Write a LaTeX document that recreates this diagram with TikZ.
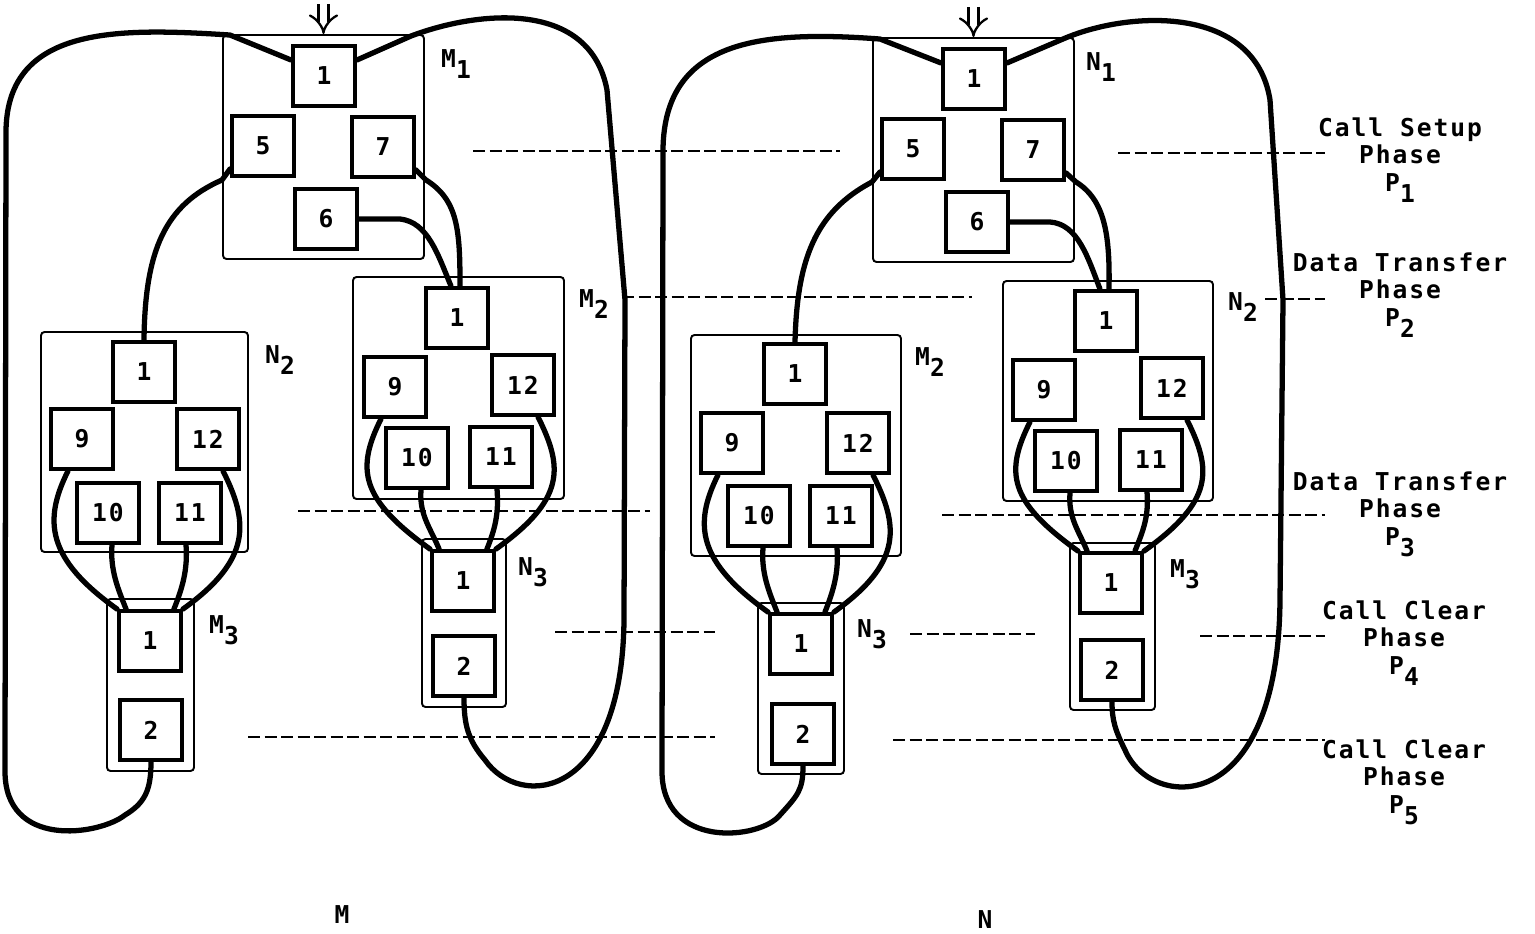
\documentclass[tikz,border=0pt]{standalone}
\usepackage{fontspec}
\newfontfamily\dgfont[LetterSpace=8]{DejaVu Sans Mono}
\usetikzlibrary{arrows.meta, calc, fit}
\tikzset{
  every picture/.style={font=\dgfont\bfseries, line width=1pt},
  unit/.style={draw, line width=2.2pt, minimum width=12.4mm, minimum height=12mm, inner sep=0pt, font=\dgfont\bfseries\fontsize{14}{14}\selectfont},
  block/.style={draw, line width=1.1pt, rounded corners=2pt, inner sep=0pt},
  wire/.style={line width=3pt, line cap=round, line join=round},
  guide/.style={line width=1pt, dash pattern=on 2.4mm off 0.9mm},
  tag/.style={inner sep=0pt, font=\dgfont\bfseries\fontsize{14}{14}\selectfont},
  phase/.style={inner sep=0pt, align=center, font=\dgfont\bfseries\fontsize{14}{15.6}\selectfont},
  inarrow/.style={double, double distance=4.5pt, line width=1.3pt, -{Implies[length=3mm]}},
}
\newcommand{\lab}[2]{#1\raisebox{-0.45em}{#2}}

\begin{document}
\begin{tikzpicture}[x=0.2mm, y=-0.2mm]
  \useasboundingbox (0,0) rectangle (1535,934);
  % fan of four wires from the 9..12 units down to a unit 1
  \newcommand{\fan}[2]{%
    \draw[wire] ($(#19.south)+(-14,0)$) .. controls +(-25,50) and +(-70,-50) .. (#2.north west);
    \draw[wire] ($(#110.south)+(4,0)$) .. controls +(-2,25) and +(-8,-20) .. ($(#2.north west)+(9,0)$);
    \draw[wire] ($(#111.south)+(-4,0)$) .. controls +(2,25) and +(8,-20) .. ($(#2.north east)+(-9,0)$);
    \draw[wire] ($(#112.south)+(15,0)$) .. controls +(25,50) and +(70,-50) .. (#2.north east);
  }

  % ---------- M ----------
  \node[block, fit={(223,35) (424,259)}] (M1) {};
  \node[unit] (mt1) at (324,76) {1};
  \node[unit] (mt5) at (263,146) {5};
  \node[unit] (mt7) at (383,147) {7};
  \node[unit] (mt6) at (326,219) {6};
  \node[tag] at (456,64) {\lab{M}{1}};

  \node[block, fit={(41,332) (248,552)}] (mN2) {};
  \node[unit] (ml1) at (144,372) {1};
  \node[unit] (ml9) at (82,439) {9};
  \node[unit] (ml12) at (208,439) {12};
  \node[unit] (ml10) at (108,513) {10};
  \node[unit] (ml11) at (190,513) {11};
  \node[tag] at (280,360) {\lab{N}{2}};

  \node[block, fit={(353,277) (564,499)}] (mM2) {};
  \node[unit] (mr1) at (457,318) {1};
  \node[unit] (mr9) at (395,387) {9};
  \node[unit] (mr12) at (523,385) {12};
  \node[unit] (mr10) at (417,458) {10};
  \node[unit] (mr11) at (501,457) {11};
  \node[tag] at (594,304) {\lab{M}{2}};

  \node[block, fit={(107,599) (194,771)}] (mM3) {};
  \node[unit] (mlb1) at (150,641) {1};
  \node[unit] (mlb2) at (151,730) {2};
  \node[tag] at (224,630) {\lab{M}{3}};

  \node[block, fit={(422,539) (506,707)}] (mN3) {};
  \node[unit] (mrb1) at (463,581) {1};
  \node[unit] (mrb2) at (464,666) {2};
  \node[tag] at (533,572) {\lab{N}{3}};

  \coordinate (min) at (323.5,4);
  \draw[inarrow] (min) -- (M1.north);
  \draw[wire] ($(mt1.west)+(0,-16)$) -- ($(M1.north west)+(8,1)$)
    .. controls (120,28) and (8,25) .. (6,130) -- (5,770)
    .. controls (4,850) and (100,835) .. (125,815)
    .. controls (145,803) and (151,790) .. (mlb2.south);
  \draw[wire] ($(mt1.east)+(0,-16)$) -- ($(M1.north east)+(-14,2)$)
    .. controls (480,10) and (590,0) .. (607,90) -- (625,300) -- (624,620)
    .. controls (622,800) and (520,810) .. (485,760)
    .. controls (468,740) and (464,725) .. (mrb2.south);
  \draw[wire] ($(mt5.south west)+(0,-9)$) -- (222,180) .. controls (165,205) and (145,250) .. (ml1.north);
  \draw[wire] ($(mt7.south east)+(0,-9)$) -- (426,180) .. controls (458,200) and (460,230) .. ($(mr1.north)+(3,0)$);
  \draw[wire] (mt6.east) -- (400,219) .. controls (428,222) and (438,255) .. ($(mr1.north)+(-6,0)$);
  \fan{ml}{mlb1}
  \fan{mr}{mrb1}

  % ---------- N ----------
  \node[block, fit={(873,38) (1074,262)}] (N1) {};
  \node[unit] (nt1) at (974,79) {1};
  \node[unit] (nt5) at (913,149) {5};
  \node[unit] (nt7) at (1033,150) {7};
  \node[unit] (nt6) at (977,222) {6};
  \node[tag] at (1101,67) {\lab{N}{1}};

  \node[block, fit={(691,335) (901,556)}] (nM2) {};
  \node[unit] (nl1) at (795,374) {1};
  \node[unit] (nl9) at (732,443) {9};
  \node[unit] (nl12) at (858,443) {12};
  \node[unit] (nl10) at (759,516) {10};
  \node[unit] (nl11) at (841,516) {11};
  \node[tag] at (930,362) {\lab{M}{2}};

  \node[block, fit={(1003,281) (1213,501)}] (nN2) {};
  \node[unit] (nr1) at (1106,321) {1};
  \node[unit] (nr9) at (1044,390) {9};
  \node[unit] (nr12) at (1172,388) {12};
  \node[unit] (nr10) at (1066,461) {10};
  \node[unit] (nr11) at (1151,460) {11};
  \node[tag] at (1243,307) {\lab{N}{2}};

  \node[block, fit={(758,603) (844,774)}] (nN3) {};
  \node[unit] (nlb1) at (801,644) {1};
  \node[unit] (nlb2) at (803,734) {2};
  \node[tag] at (872,634) {\lab{N}{3}};

  \node[block, fit={(1070,543) (1155,710)}] (nM3) {};
  \node[unit] (nrb1) at (1111,583) {1};
  \node[unit] (nrb2) at (1112,670) {2};
  \node[tag] at (1185,574) {\lab{M}{3}};

  \coordinate (nin) at (973.5,7);
  \draw[inarrow] (nin) -- (N1.north);
  \draw[wire] ($(nt1.west)+(0,-16)$) -- ($(N1.north west)+(8,2)$)
    .. controls (760,30) and (664,40) .. (663,150) -- (662,770)
    .. controls (661,850) and (760,840) .. (780,815)
    .. controls (798,795) and (803,790) .. (nlb2.south);
  \draw[wire] ($(nt1.east)+(0,-16)$) -- ($(N1.north east)+(-12,2)$)
    .. controls (1130,10) and (1255,5) .. (1270,100) -- (1283,300) -- (1280,600)
    .. controls (1278,820) and (1150,810) .. (1125,750)
    .. controls (1115,730) and (1112,720) .. (nrb2.south);
  \draw[wire] ($(nt5.south west)+(0,-9)$) -- (872,182) .. controls (815,212) and (797,260) .. (nl1.north);
  \draw[wire] ($(nt7.south east)+(0,-9)$) -- (1076,182) .. controls (1105,200) and (1110,235) .. ($(nr1.north)+(3,0)$);
  \draw[wire] (nt6.east) -- (1050,222) .. controls (1078,224) and (1088,258) .. ($(nr1.north)+(-6,0)$);
  \fan{nl}{nlb1}
  \fan{nr}{nrb1}

  % phase guides
  \draw[guide] (473,151) -- (840,151);
  \draw[guide] (1118,153) -- (1325,153);
  \draw[guide] (622,297) -- (972,297);
  \draw[guide] (1265,299) -- (1325,299);
  \draw[guide] (298,511) -- (650,511);
  \draw[guide] (942,515) -- (1325,515);
  \draw[guide] (555,632) -- (715,632);
  \draw[guide] (910,634) -- (1035,634);
  \draw[guide] (1200,636) -- (1325,636);
  \draw[guide] (248,737) -- (715,737);
  \draw[guide] (893,740) -- (1325,740);

  \node[phase] (p1) at (1400,160) {Call Setup\\Phase\\\lab{P}{1}};
  \node[phase] (p2) at (1400,295) {Data Transfer\\Phase\\\lab{P}{2}};
  \node[phase] (p3) at (1400,514) {Data Transfer\\Phase\\\lab{P}{3}};
  \node[phase] (p4) at (1404,643) {Call Clear\\Phase\\\lab{P}{4}};
  \node[phase] (p5) at (1404,782) {Call Clear\\Phase\\\lab{P}{5}};

  \node[tag] (mname) at (342,915) {M};
  \node[tag] (nname) at (985,920) {N};
\end{tikzpicture}
\end{document}
